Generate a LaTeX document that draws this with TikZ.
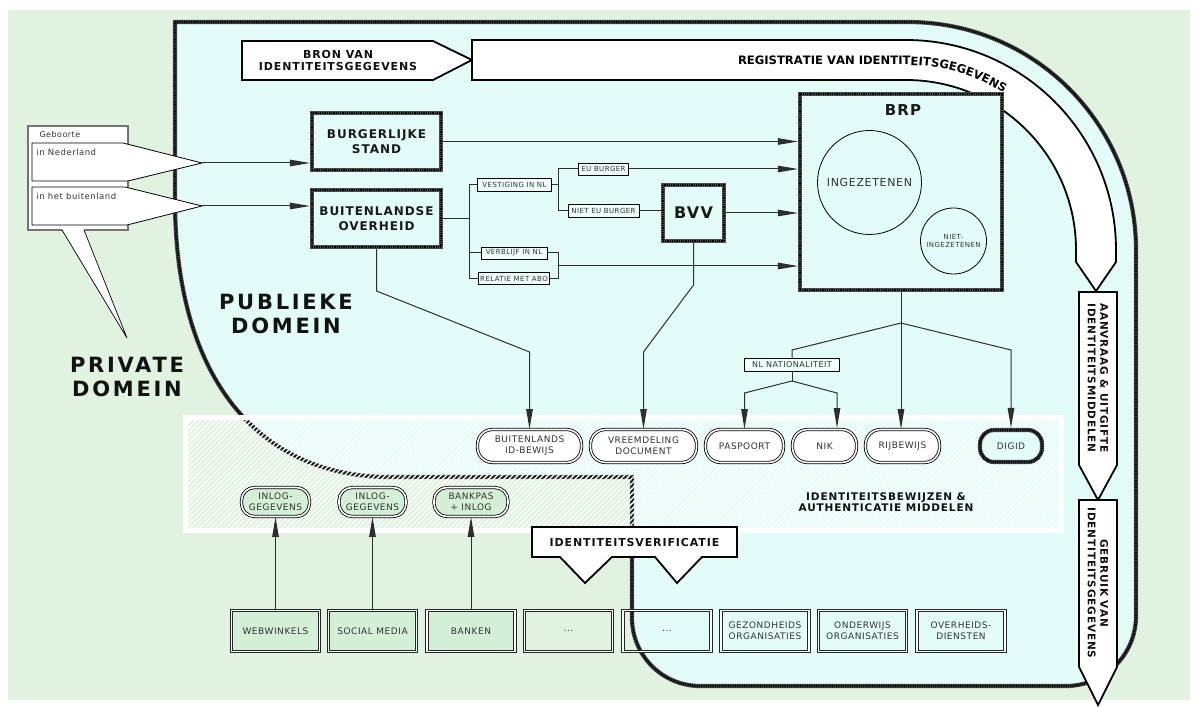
\documentclass[tikz,border=0pt]{standalone}
\usepackage{fontspec}
\setmainfont{DejaVu Sans}
\newfontfamily\fb[LetterSpace=8]{DejaVu Sans}
\newfontfamily\fr[LetterSpace=6]{DejaVu Sans}
\newfontfamily\fbig[LetterSpace=13]{DejaVu Sans}
\newfontfamily\fpl{DejaVu Sans}
\newcommand\regfont{\fpl\bfseries\fontsize{11.6}{13}\selectfont}
\usetikzlibrary{arrows.meta,patterns.meta,decorations.text}
\definecolor{bggreen}{HTML}{DFF3E0}
\definecolor{pubcyan}{HTML}{E2FDF8}
\definecolor{nodegreen}{HTML}{D3EFD5}
\definecolor{tbgray}{HTML}{4A4A4A}
\definecolor{txt}{HTML}{333333}
\definecolor{lnk}{HTML}{2E2E2E}
\begin{document}
\begin{tikzpicture}[x=1pt,y=-1pt,
  tb/.style={draw=tbgray, line width=4.2pt, postaction={draw=black, line width=2.6pt, dash pattern=on 1pt off 0.8pt}},
  bigbox/.style={tb, fill=pubcyan, inner sep=0pt, font=\fb\bfseries\fontsize{12}{15}\selectfont, align=center, text=black!90},
  lbl/.style={draw=black, line width=0.9pt, fill=pubcyan!60!white, inner sep=0pt, font=\fr\fontsize{7}{8}\selectfont, text=txt},
  idn/.style={draw=black, double=white, double distance=1.6pt, line width=0.8pt, rounded corners=15pt, fill=white, minimum height=33pt, inner sep=0pt, font=\fr\fontsize{9}{11}\selectfont, align=center, text=txt},
  lgn/.style={idn, fill=nodegreen, minimum height=29pt, rounded corners=13pt},
  bot/.style={draw=black!85, double=white, double distance=1.6pt, line width=0.9pt, minimum width=88pt, minimum height=41pt, inner sep=0pt, font=\fr\fontsize{9}{11}\selectfont, align=center, text=txt},
  conn/.style={draw=lnk, line width=1pt},
  arr/.style={conn, -{Triangle[length=20pt,width=6.5pt]}},
  shp/.style={draw=black, line width=1.8pt, fill=white, line join=miter},
  boldlab/.style={font=\fb\bfseries\fontsize{11}{11.5}\selectfont, align=center, text=black!93}
]
\useasboundingbox (0,0) rectangle (1196,708);
\fill[white] (0,0) rectangle (1196,708);
\fill[bggreen] (8,10) rectangle (1190,700);

% public domain
\path[tb, fill=pubcyan] (175,22) -- (908,22) arc[start angle=-90,end angle=0,radius=228] -- (1136,616) arc[start angle=0,end angle=90,radius=70] -- (700,686) arc[start angle=90,end angle=180,radius=68] -- (632,477) -- (390,477) .. controls (260,477) and (175,380) .. (175,200) -- cycle;

% band
\fill[white, even odd rule] (183,415) rectangle (1064,533) (188,420) rectangle (1059,528);
\fill[pattern={Lines[angle=45,distance=3.6pt,line width=1.3pt]}, pattern color=white, fill opacity=0.8] (188,420) rectangle (1059,528);

% BRON arrow
\path[shp] (242,41) -- (433,41) -- (472,60) -- (433,80) -- (242,80) -- cycle;
\node[boldlab] (bron) at (338,60.5) {BRON VAN\\IDENTITEITSGEGEVENS};

% REGISTRATIE arrow
\path[shp] (472,40) -- (906,40) arc[start angle=-90,end angle=0,radius=210] -- (1116,262) -- (1096,291) -- (1076,262) -- (1076,250) arc[start angle=0,end angle=-90,radius=170] -- (472,80) -- cycle;
\path[decorate, decoration={text along path, text={|\regfont|REGISTRATIE VAN IDENTITEITSGEGEVENS}, text align=left}] (738,65) -- (906,65) arc[start angle=-90, end angle=-5, radius=185];

% vertical arrows
\path[shp] (1079,292) -- (1117,292) -- (1117,465) -- (1098,500) -- (1079,465) -- cycle;
\node[boldlab, rotate=-90, font=\fb\bfseries\fontsize{10.5}{12.5}\selectfont] (aanv) at (1098,378) {AANVRAAG \& UITGIFTE\\IDENTITEITSMIDDELEN};
\path[shp] (1079,500) -- (1117,500) -- (1117,667) -- (1098,705) -- (1079,667) -- cycle;
\node[boldlab, rotate=-90, font=\fb\bfseries\fontsize{10.5}{12.5}\selectfont] (gebr) at (1098,583) {GEBRUIK VAN\\IDENTITEITSGEGEVENS};

% Geboorte callout
\path[draw=black!55, line width=1.3pt, fill=white] (28,126) rectangle (128,230);
\fill[white] (62,229) -- (127,338) -- (84,229) -- cycle;
\draw[black, line width=0.7pt] (62,230) -- (127,338) -- (84,230);
\node[anchor=west, font=\fr\fontsize{8}{9}\selectfont, text=txt] (geb) at (36,134.5) {Geboorte};
\path[draw=black, line width=0.8pt, fill=white] (32,143) -- (123,143) -- (202,163) -- (128,181) -- (32,181) -- cycle;
\node[anchor=west, font=\fr\fontsize{8.5}{9}\selectfont, text=txt] (innl) at (33,152) {in Nederland};
\path[draw=black, line width=0.8pt, fill=white] (32,187) -- (125,187) -- (202,206) -- (127,225) -- (32,225) -- cycle;
\node[anchor=west, font=\fr\fontsize{8.5}{9}\selectfont, text=txt] (inbl) at (33,196) {in het buitenland};
\coordinate (tipA) at (202,163);
\coordinate (tipB) at (202,206);

% main boxes
\node[bigbox, minimum width=129pt, minimum height=57pt] (bs) at (376.5,141.5) {BURGERLIJKE\\STAND};
\node[bigbox, minimum width=129pt, minimum height=57pt] (bo) at (376.5,218.5) {BUITENLANDSE\\OVERHEID};
\node[bigbox, minimum width=61pt, minimum height=56pt, font=\fb\bfseries\fontsize{16}{18}\selectfont] (bvv) at (693.5,213) {BVV};
\node[tb, fill=pubcyan, minimum width=202pt, minimum height=196pt, inner sep=0pt] (brp) at (901,192) {};
\node[font=\fb\bfseries\fontsize{15}{17}\selectfont, text=black!90] (brpt) at (903,110) {BRP};
\node[draw=black, line width=0.8pt, circle, minimum size=104pt, inner sep=0pt, font=\fr\fontsize{11}{13}\selectfont, text=txt] (ing) at (869.5,182.5) {INGEZETENEN};
\node[draw=black, line width=0.8pt, circle, minimum size=66pt, inner sep=0pt, font=\fr\fontsize{7}{8.5}\selectfont, align=center, text=txt] (ning) at (953.5,241) {NIET-\\INGEZETENEN};

% label boxes
\node[lbl, minimum width=74pt, minimum height=13pt] (vest) at (514.5,185) {VESTIGING IN NL};
\node[lbl, minimum width=66pt, minimum height=12pt] (verb) at (514,253) {VERBLIJF IN NL};
\node[lbl, minimum width=71pt, minimum height=12pt] (rel) at (514,278.5) {RELATIE MET ABO};
\node[lbl, minimum width=50pt, minimum height=12pt] (eu) at (603.5,169) {EU BURGER};
\node[lbl, minimum width=71pt, minimum height=13pt] (neu) at (603.5,211) {NIET EU BURGER};
\node[lbl, minimum width=95pt, minimum height=13pt, font=\fr\fontsize{8}{9}\selectfont] (nlnat) at (792,365) {NL NATIONALITEIT};

% ID nodes
\node[idn, minimum width=104pt] (bid) at (529.5,446) {BUITENLANDS\\ID-BEWIJS};
\node[idn, minimum width=106pt] (vd) at (643.5,446) {VREEMDELING\\DOCUMENT};
\node[idn, minimum width=78pt] (pas) at (744.5,446) {PASPOORT};
\node[idn, minimum width=64pt] (nik) at (824.5,446) {NIK};
\node[idn, minimum width=74pt] (rij) at (902.5,446) {RIJBEWIJS};
\node[tb, fill=pubcyan, rounded corners=14pt, minimum width=62pt, minimum height=32pt, inner sep=0pt, font=\fr\fontsize{9}{11}\selectfont, text=txt] (dig) at (1011,446) {DIGID};

% login nodes
\node[lgn, minimum width=68pt] (in1) at (275.5,502) {INLOG-\\GEGEVENS};
\node[lgn, minimum width=67pt] (in2) at (372.5,502) {INLOG-\\GEGEVENS};
\node[lgn, minimum width=74pt] (in3) at (471,502) {BANKPAS\\+ INLOG};

% bottom boxes
\node[bot, fill=nodegreen] (web) at (275.5,631) {WEBWINKELS};
\node[bot, fill=nodegreen] (soc) at (372.5,631) {SOCIAL MEDIA};
\node[bot, fill=nodegreen] (ban) at (471,631) {BANKEN};
\node[bot] (d1) at (568.5,631) {...};
\node[bot] (d2) at (667,631) {...};
\node[bot] (gez) at (765,631) {GEZONDHEIDS\\ORGANISATIES};
\node[bot] (ond) at (862.5,631) {ONDERWIJS\\ORGANISATIES};
\node[bot] (ove) at (961,631) {OVERHEIDS-\\DIENSTEN};

% helper levels
\coordinate (y285) at (0,285);
\coordinate (y291) at (0,291);
\coordinate (y350) at (0,350);
\coordinate (y352) at (0,352);
\coordinate (y393) at (0,393);

% connectors
\draw[arr] (tipA) -- (tipA -| bs.west);
\draw[arr] (tipB) -- (tipB -| bo.west);
\draw[arr] (bs.east) -- (bs.east -| brp.west);

\coordinate (ja) at (469,220);
\draw[conn] (bo.east) -- (bo.east -| ja);
\draw[conn] (ja |- vest.west) -- (ja |- rel.west);
\draw[conn] (ja |- vest.west) -- (vest.west);
\draw[conn] (ja |- verb.west) -- (verb.west);
\draw[conn] (ja |- rel.west) -- (rel.west);

\coordinate (jb) at (558,190);
\draw[conn] (vest.east) -- (vest.east -| jb);
\draw[conn] (jb |- eu.west) -- (jb |- neu.west);
\draw[conn] (jb |- eu.west) -- (eu.west);
\draw[conn] (jb |- neu.west) -- (neu.west);
\draw[arr] (eu.east) -- (eu.east -| brp.west);
\draw[conn] (neu.east) -- (neu.east -| bvv.west);
\draw[arr] (bvv.east) -- (bvv.east -| brp.west);

\coordinate (jc) at (558,266);
\draw[conn] (verb.east) -- (verb.east -| jc) -- (rel.east -| jc) -- (rel.east);
\draw[arr] (jc) -- (jc -| brp.west);

\draw[arr] (bo.south) -- (bo.south |- y291) -- (bid.north |- y352) -- (bid.north);
\draw[arr] (bvv.south) -- (bvv.south |- y285) -- (vd.north |- y352) -- (vd.north);

\coordinate (jr) at (901,323);
\draw[conn] (brp.south) -- (jr);
\draw[conn] (jr) -- (nlnat.north |- y350) -- (nlnat.north);
\draw[arr] (jr) -- (jr |- rij.north);
\draw[arr] (jr) -- (dig.north |- y350) -- (dig.north);
\coordinate (jn) at (792,381);
\coordinate (nikn) at (837,428);
\draw[conn] (nlnat.south) -- (jn);
\draw[arr] (jn) -- (pas.north |- y393) -- (pas.north);
\draw[arr] (jn) -- (nikn |- y393) -- (nikn);

\draw[arr] (web.north) -- (web.north |- in1.south);
\draw[arr] (soc.north) -- (soc.north |- in2.south);
\draw[arr] (ban.north) -- (ban.north |- in3.south);

% identiteitsverificatie callout
\path[shp] (532,527) -- (737,527) -- (737,557) -- (702,557) -- (677,583) -- (655,557) -- (612,557) -- (585,583) -- (560,557) -- (532,557) -- cycle;
\node[boldlab] (iv) at (634.5,542) {IDENTITEITSVERIFICATIE};

% labels
\node[boldlab, font=\fb\bfseries\fontsize{10.5}{11}\selectfont] (idlab) at (886,502) {IDENTITEITSBEWIJZEN \&\\AUTHENTICATIE MIDDELEN};
\node[font=\fbig\bfseries\fontsize{21}{24}\selectfont, align=center, text=black!93] (pub) at (286,314) {PUBLIEKE\\DOMEIN};
\node[font=\fbig\bfseries\fontsize{21}{24}\selectfont, align=center, text=black!93] (priv) at (127,377) {PRIVATE\\DOMEIN};
\end{tikzpicture}
\end{document}
